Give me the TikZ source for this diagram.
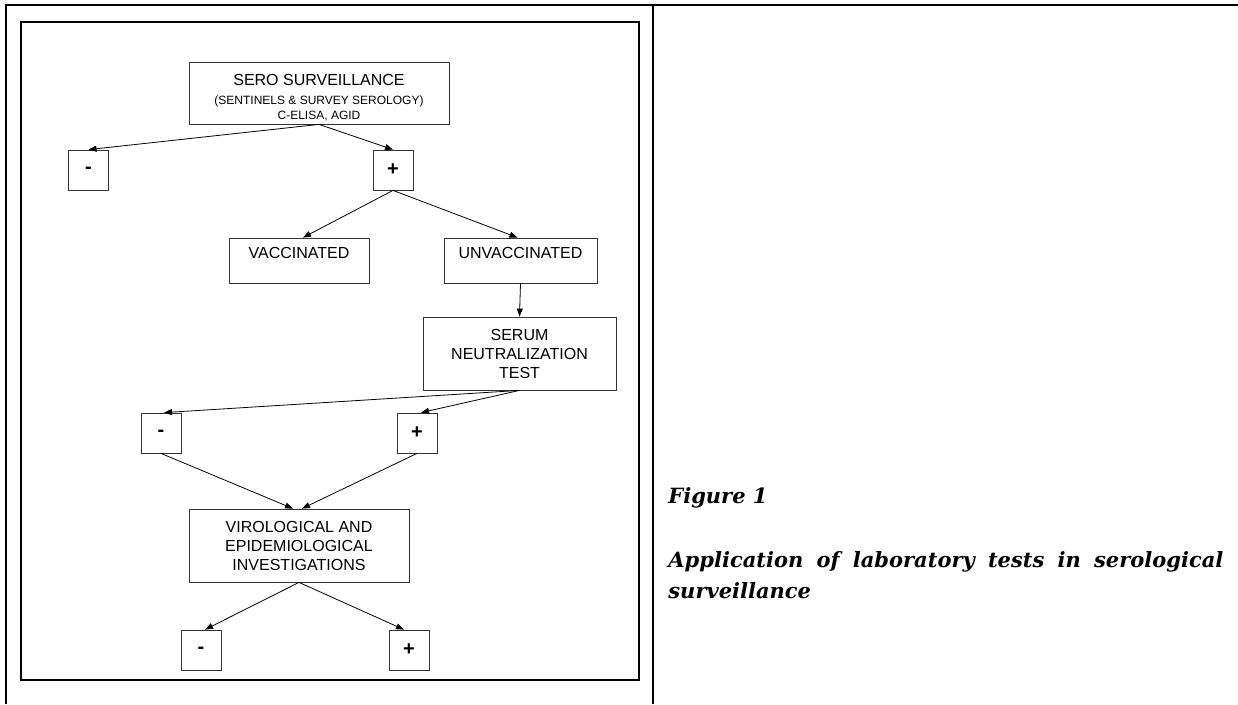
\documentclass[tikz,border=0pt]{standalone}
\usepackage{fontspec}
\setmainfont{Liberation Sans}
\newfontfamily\capfont{DejaVu Serif}
\usetikzlibrary{arrows.meta}

\begin{document}
\begin{tikzpicture}[x=1pt,y=-1pt,-{Triangle[length=8pt,width=6pt]},line width=0.8pt,draw=black]
	\tikzstyle{every node}=[rectangle,draw=black!80,line width=0.8pt,inner sep=0pt,align=center,text=black,font=\fontsize{16}{19}\selectfont]
	\tikzstyle{sign}=[minimum width=40pt,minimum height=40pt,font=\fontsize{20}{24}\selectfont\bfseries] % + / - result box
	\tikzstyle{frame}=[-,line width=1.7pt] % table and figure border
	\tikzstyle{caption}=[draw=none,anchor=base west,font=\capfont\fontsize{21}{25}\selectfont\bfseries\itshape]
	\useasboundingbox (0,0) rectangle (1238,704);
	% table lines and figure frame
	\draw[frame] (6,704) -- (6,5) -- (1238,5);
	\draw[frame] (653,5) -- (653,704);
	\draw[frame] (21,22) rectangle (639,680);
	% boxes
	\node(sero)[minimum width=260pt,minimum height=62pt] at (319,93) {\rule{0pt}{20pt}SERO SURVEILLANCE\\[0pt]{\fontsize{12}{15}\selectfont (SENTINELS \& SURVEY SEROLOGY)}\\[-4pt]{\fontsize{12}{15}\selectfont C-ELISA, AGID}};
	\node(neg1)[sign] at (88.5,170) {-};
	\node(pos1)[sign] at (393,170) {+};
	\node(vacc)[minimum width=140pt,minimum height=45pt] at (299,260.5) {\rule{0pt}{15pt}VACCINATED\\~};
	\node(unvacc)[minimum width=153pt,minimum height=45pt] at (520.5,260.5) {\rule{0pt}{15pt}UNVACCINATED\\~};
	\node(serum)[minimum width=193pt,minimum height=73pt] at (519.5,353.5) {SERUM\\NEUTRALIZATION\\TEST};
	\node(neg2)[sign] at (161,433) {-};
	\node(pos2)[sign] at (417,433) {+};
	\node(viro)[minimum width=220pt,minimum height=73pt] at (299,545.5) {VIROLOGICAL AND\\EPIDEMIOLOGICAL\\INVESTIGATIONS};
	\node(neg3)[sign] at (201,650) {-};
	\node(pos3)[sign] at (409,650) {+};
	% connectors
	\draw (sero.south) -- (neg1.north);
	\draw (sero.south) -- (pos1.north);
	\draw (pos1.south) -- ([xshift=4pt]vacc.north);
	\draw (pos1.south) -- ([xshift=-3pt]unvacc.north);
	\draw (unvacc.south) -- (serum.north);
	\draw (serum.south) -- ([xshift=3pt]neg2.north);
	\draw (serum.south) -- ([xshift=4pt]pos2.north);
	\draw (neg2.south) -- ([xshift=-6pt]viro.north);
	\draw (pos2.south) -- ([xshift=3pt]viro.north);
	\draw (viro.south) -- ([xshift=4pt]neg3.north);
	\draw (viro.south) -- ([xshift=-5pt]pos3.north);
	% caption
	\node(fig)[caption] at (668,503) {Figure 1};
	\node(title)[caption] at (668,567) {\makebox[555pt][s]{Application of laboratory tests in serological}};
	\node(title2)[caption] at (668,598) {surveillance};
\end{tikzpicture}
\end{document}
